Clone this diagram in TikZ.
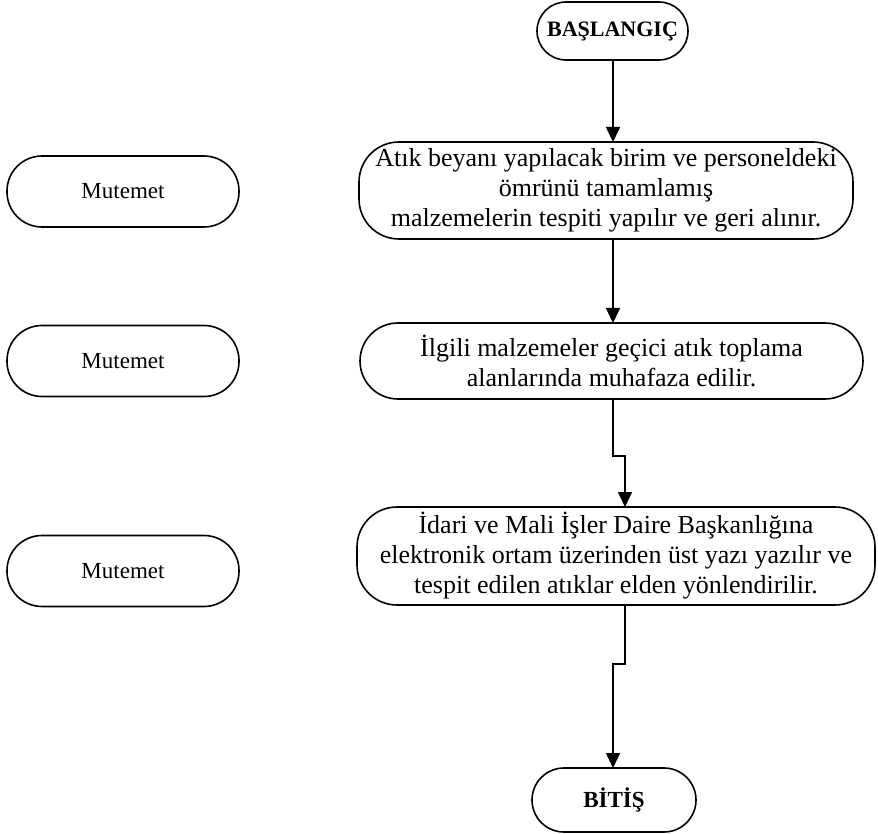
\documentclass[tikz,border=0pt]{standalone}
\usepackage{fontspec}
\setmainfont{Liberation Serif}
\usetikzlibrary{arrows.meta}
\begin{document}
\begin{tikzpicture}[x=1pt,y=-1pt,
  every node/.style={inner sep=0pt, outer sep=0pt},
  term/.style={draw, line width=1.6pt, align=center, font=\fontsize{22}{26}\selectfont\bfseries},
  proc/.style={draw, line width=1.6pt, rounded corners=40pt, align=center, font=\fontsize{26}{30}\selectfont},
  role/.style={draw, line width=1.6pt, rounded corners=35pt, minimum width=232pt, minimum height=71pt, font=\fontsize{23}{27}\selectfont},
  conn/.style={line width=1.6pt, -{Triangle[width=14pt,length=15pt]}}
]
\useasboundingbox (0,0) rectangle (878,834);
\node[term, minimum width=151pt, minimum height=58pt, rounded corners=29pt] (start) at (612.5,31) {BAŞLANGIÇ};
\node[proc, minimum width=494pt, minimum height=97pt] (b1) at (606,190.5) {Atık beyanı yapılacak birim ve personeldeki\\ömrünü tamamlamış\\malzemelerin tespiti yapılır ve geri alınır.};
\node[proc, minimum width=503pt, minimum height=76pt, rounded corners=38pt] (b2) at (611.5,361) {İlgili malzemeler geçici atık toplama\\alanlarında muhafaza edilir.};
\node[proc, minimum width=518pt, minimum height=98pt] (b3) at (616,556) {\raisebox{-2pt}{\parbox{518pt}{\centering İdari ve Mali İşler Daire Başkanlığına\\elektronik ortam üzerinden üst yazı yazılır ve\\tespit edilen atıklar elden yönlendirilir.}}};
\node[term, minimum width=164pt, minimum height=64pt, rounded corners=32pt, font=\fontsize{23}{27}\selectfont\bfseries] (end) at (614,800) {BİTİŞ};
\node[role] (m1) at (123,191.5) {Mutemet};
\node[role] (m2) at (123,361) {Mutemet};
\node[role] (m3) at (123,571) {Mutemet};
\coordinate (ax) at (613,0);
\coordinate (j1) at (613,455.7);
\coordinate (j2) at (625,455.7);
\coordinate (j3) at (625,664);
\coordinate (j4) at (613,664);
\draw[conn] (start.south -| ax) -- (b1.north -| ax);
\draw[conn] (b1.south -| ax) -- (b2.north -| ax);
\draw[conn] (b2.south -| j1) -- (j1) -- (j2) -- (b3.north -| j2);
\draw[conn] (b3.south -| j3) -- (j3) -- (j4) -- (end.north -| j4);
\end{tikzpicture}
\end{document}
